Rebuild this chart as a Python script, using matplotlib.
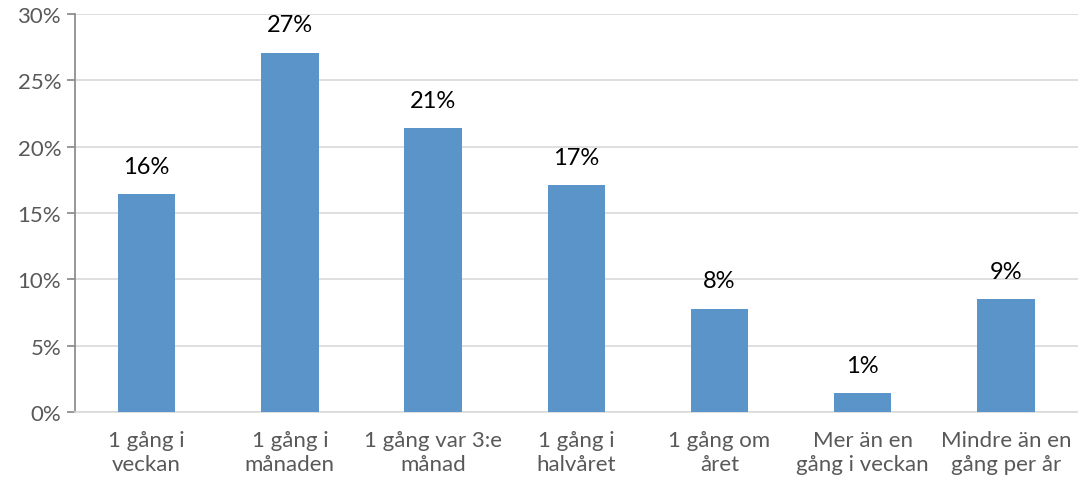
import numpy as np
import matplotlib
matplotlib.use('Agg')
import matplotlib.pyplot as plt

plt.rcParams['font.family'] = ['Lato', 'DejaVu Sans']

categories = ['1 gång i\nveckan', '1 gång i\nmånaden', '1 gång var 3:e\nmånad', '1 gång i\nhalvåret',
              '1 gång om\nåret', 'Mer än en\ngång i veckan', 'Mindre än en\ngång per år']
values = [16.4, 27.1, 21.4, 17.1, 7.8, 1.4, 8.5]
labels = ['16%', '27%', '21%', '17%', '8%', '1%', '9%']

fig = plt.figure(figsize=(10.78, 4.85), dpi=100)
ax = fig.add_axes([0.0696, 0.1485, 0.93, 0.8205])

x = np.arange(len(categories))
ax.bar(x, values, width=0.4, color='#5b94c9', zorder=3)
for xi, v, lab in zip(x, values, labels):
    ax.text(xi, v + 2.1, lab, ha='center', va='center', fontsize=17, color='black')

ax.set_xlim(-0.5, len(categories) - 0.5)
ax.set_ylim(0, 30)
ax.set_yticks(range(0, 31, 5))
ax.set_yticklabels([f'{t}%' for t in range(0, 31, 5)])
ax.set_xticks(x)
ax.set_xticklabels(categories, linespacing=1.25)
ax.yaxis.grid(True, color='#d9d9d9', linewidth=1.2, zorder=0)
ax.tick_params(axis='y', colors='#595959', labelsize=16, length=6, width=1.2, color='#868686', pad=4)
ax.tick_params(axis='x', colors='#595959', labelsize=16, length=0, pad=13)
for s in ['top', 'right']:
    ax.spines[s].set_visible(False)
ax.spines['left'].set_color('#868686')
ax.spines['left'].set_linewidth(1.2)
ax.spines['bottom'].set_color('#d9d9d9')
ax.spines['bottom'].set_linewidth(1.2)

fig.savefig('out.png', dpi=100)
